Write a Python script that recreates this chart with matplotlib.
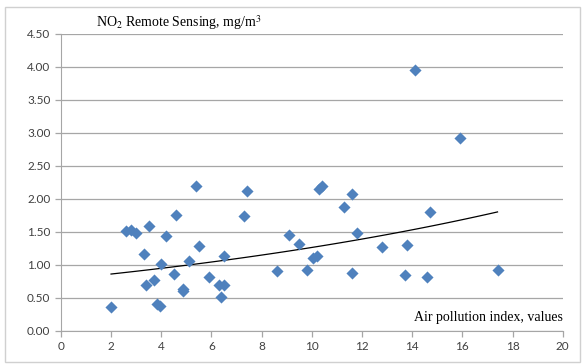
import numpy as np
import matplotlib.pyplot as plt
from matplotlib.patches import Rectangle

# Air pollution index vs NO2 remote sensing
api_values = [2.0, 2.6, 2.8, 3.0, 3.3, 3.4, 3.5, 3.7, 3.85, 3.97, 4.0, 4.2,
              4.5, 4.6, 4.85, 4.87, 5.1, 5.4, 5.5, 5.9, 6.3, 6.5, 6.4, 6.5,
              7.3, 7.4, 8.6, 9.1, 9.5, 9.8, 10.05, 10.2, 10.3, 10.4, 11.3,
              11.6, 11.6, 11.8, 12.8, 13.7, 13.8, 14.1, 14.6, 14.7, 15.9, 17.4]
no2_values = [0.37, 1.52, 1.53, 1.49, 1.17, 0.69, 1.59, 0.78, 0.41, 0.38, 1.01, 1.44,
              0.87, 1.76, 0.64, 0.61, 1.06, 2.19, 1.28, 0.82, 0.69, 0.69, 0.52, 1.14,
              1.74, 2.12, 0.91, 1.45, 1.32, 0.92, 1.11, 1.14, 2.15, 2.20, 1.88,
              2.08, 0.88, 1.48, 1.27, 0.85, 1.31, 3.95, 0.82, 1.80, 2.93, 0.92]

x_ticks = np.arange(0, 21, 2)
y_ticks = np.arange(0, 4.51, 0.5)

plt.rcParams['mathtext.fontset'] = 'stix'
plt.rcParams['font.family'] = 'Lato'

fig = plt.figure(figsize=(5.85, 3.64), dpi=100)
ax = fig.add_axes([0.104, 0.0907, 0.858, 0.816])

# Excel-style exponential trendline fitted to the data
x = np.array(api_values)
y = np.array(no2_values)
b, log_a = np.polyfit(x, np.log(y), 1)
xs = np.linspace(x.min(), x.max(), 100)
ax.plot(xs, np.exp(log_a) * np.exp(b * xs), color='black', lw=0.9, zorder=2)

ax.scatter(x, y, marker='D', s=38, color='#4f81bd', linewidths=0, zorder=3)

ax.set_xlim(0, 20)
ax.set_ylim(0, 4.5)
ax.set_xticks(x_ticks)
ax.set_yticks(y_ticks)
ax.set_yticklabels([f'{v:.2f}' for v in y_ticks])
ax.grid(axis='y', color='#a6a6a6', lw=0.9)
ax.set_axisbelow(True)
for side in ['top', 'right']:
    ax.spines[side].set_visible(False)
for side in ['left', 'bottom']:
    ax.spines[side].set_color('#a6a6a6')
ax.tick_params(colors='#a6a6a6', labelcolor='#404040', labelsize=8.5, length=4, width=0.9)

ax.text(0.07, 1.005, r'NO$_2$ Remote Sensing, mg/m$^3$', transform=ax.transAxes,
        family='Liberation Serif', fontsize=10, va='bottom', ha='left')
ax.text(1.0, 0.025, 'Air pollution index, values', transform=ax.transAxes,
        family='Liberation Serif', fontsize=10, va='bottom', ha='right')

# light frame round the chart area
fig.patches.append(Rectangle((0.008, 0.005), 0.984, 0.975, transform=fig.transFigure,
                             fill=False, edgecolor='#d0d0d0', lw=1))

fig.savefig('out.png', dpi=100)
